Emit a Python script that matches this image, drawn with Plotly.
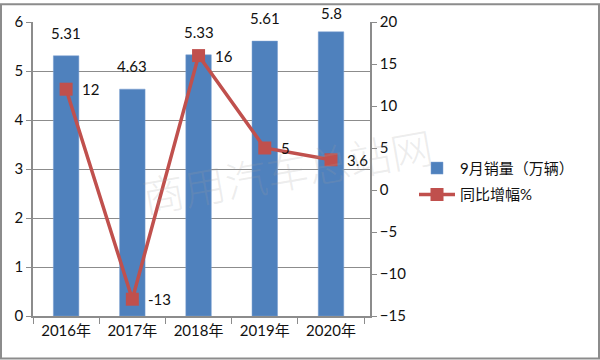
import plotly.graph_objects as go

categories = ["2016年", "2017年", "2018年", "2019年", "2020年"]
sales = [5.31, 4.63, 5.33, 5.61, 5.8]
growth = [12, -13, 16, 5, 3.6]
sales_name = "9月销量（万辆）"
growth_name = "同比增幅%"

BLUE = "#4F81BD"
RED = "#C0504D"
GRID = "#8C8C8C"
FONT = "Lato, 'Noto Sans CJK SC', sans-serif"

L, R, T, B = 33, 230, 19, 44
W, H = 600, 360
pw, ph = W - L - R, H - T - B
YMAX = 6

fig = go.Figure()
fig.add_trace(go.Bar(
    x=categories, y=sales, name=sales_name, legendgroup="a",
    marker=dict(color=BLUE, line=dict(color="#7A9FD0", width=0.5)),
    yaxis="y",
))
fig.add_trace(go.Scatter(
    x=categories, y=growth, name=growth_name, yaxis="y2", legendgroup="b",
    mode="lines+markers",
    line=dict(color=RED, width=3.5),
    marker=dict(symbol="square", size=13, color=RED),
    cliponaxis=False,
))

annotations = []
for c, v in zip(categories, sales):
    bar_top_px = T + ph * (1 - v / YMAX)
    shift = min(12, bar_top_px - 21)
    annotations.append(dict(
        x=c, y=v, xref="x", yref="y", text=str(v), showarrow=False,
        yanchor="bottom", yshift=shift, font=dict(size=15, color="#111111", family=FONT),
    ))
for c, g in zip(categories, growth):
    annotations.append(dict(
        x=c, y=g, xref="x", yref="y2", text=str(g), showarrow=False,
        xanchor="left", yanchor="middle", xshift=14,
        font=dict(size=15, color="#111111", family=FONT),
    ))

# watermark
annotations.append(dict(
    x=(287 - L) / pw, y=(T + ph - 168) / ph, xref="paper", yref="paper",
    xanchor="center", yanchor="middle",
    text="商用汽车总站网", showarrow=False, textangle=-10,
    font=dict(size=42, color="rgba(160,160,160,0.20)", family="'Noto Sans CJK SC'", weight=300),
))

shapes = [dict(
    type="rect", xref="paper", yref="paper",
    x0=(1 - L) / pw, x1=(W - 1 - L) / pw,
    y0=(T + ph - (H - 1)) / ph, y1=(T + ph - 1) / ph,
    line=dict(color="#8C8C8C", width=2), layer="above",
)]

fig.update_layout(
    width=W, height=H,
    margin=dict(l=L, r=R, t=T, b=B),
    paper_bgcolor="white", plot_bgcolor="white",
    font=dict(family=FONT, size=15, color="#111111"),
    bargap=0.615,
    showlegend=True,
    legend=dict(
        x=(414 - L) / pw, y=(T + ph - 180) / ph, xanchor="left", yanchor="middle",
        font=dict(size=15, family=FONT, color="#111111"),
        bgcolor="rgba(0,0,0,0)", traceorder="grouped", tracegroupgap=4, itemwidth=36,
    ),
    xaxis=dict(
        showline=True, linecolor=GRID, linewidth=1.5,
        ticks="outside", tickson="boundaries", ticklen=6, tickcolor=GRID,
        tickfont=dict(size=15), showgrid=False,
    ),
    yaxis=dict(
        range=[0, YMAX], dtick=1, showline=True, linecolor=GRID, linewidth=1.5,
        ticks="outside", ticklen=5, tickcolor=GRID,
        showgrid=True, gridcolor=GRID, gridwidth=1, zeroline=False,
        tickfont=dict(size=15),
    ),
    yaxis2=dict(
        range=[-15, 20], dtick=5, overlaying="y", side="right",
        showline=True, linecolor=GRID, linewidth=1.5,
        ticks="outside", ticklen=5, tickcolor=GRID,
        showgrid=False, zeroline=False, tickfont=dict(size=15),
    ),
    annotations=annotations,
    shapes=shapes,
)

fig.write_html(
    "out.html",
    config={"displayModeBar": False},
    post_script="document.body.style.margin='0';document.body.style.overflow='hidden';",
)
